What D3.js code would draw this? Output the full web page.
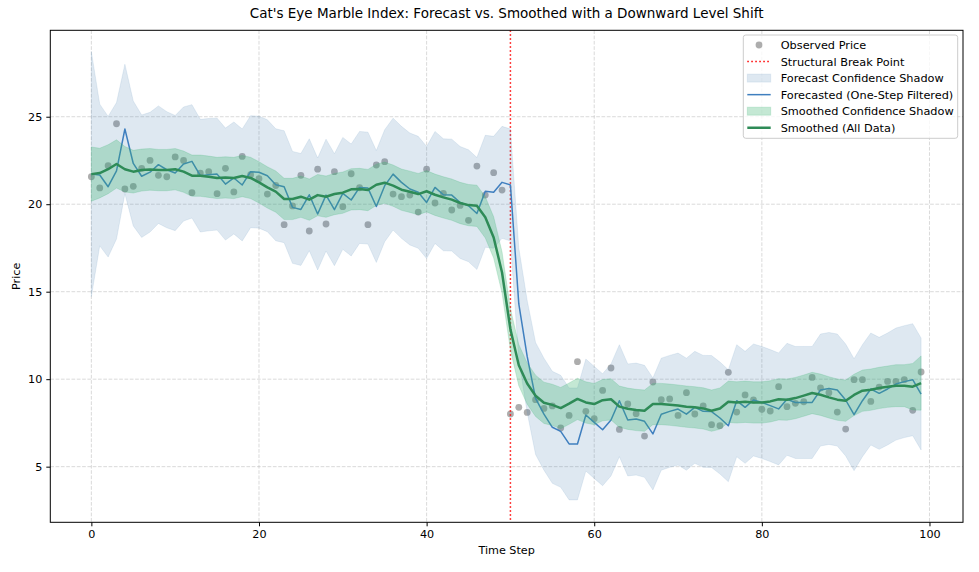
<!DOCTYPE html>
<html><head><meta charset="utf-8">
<script src="https://cdn.jsdelivr.net/npm/d3@7/dist/d3.min.js"></script>
<style>body{margin:0;background:#fff}svg{display:block}text{font-family:"DejaVu Sans",sans-serif;fill:#000}</style>
</head><body><svg id="c" width="979" height="572"></svg>
<script>
const observed = [21.57,20.93,22.2,24.6,20.87,21.02,22.05,22.5,21.65,21.57,
22.7,22.5,20.66,21.78,21.86,20.6,22.05,20.7,22.73,21.69,
21.46,20.58,21.07,18.83,19.9,21.65,18.47,22.0,18.87,21.86,
19.86,21.74,20.94,18.83,22.24,22.43,20.58,20.43,20.52,19.55,
22.0,20.07,20.62,19.67,19.93,19.08,22.18,20.52,21.8,20.81,
8.01,8.39,8.1,8.83,8.33,8.47,7.21,7.93,11.0,8.16,
7.74,9.36,10.64,7.13,8.58,8.03,6.75,9.84,8.83,8.87,
7.93,9.23,8.01,8.47,7.4,7.34,10.39,8.12,9.1,8.81,
8.28,8.18,9.57,8.43,8.62,8.71,10.1,9.5,9.23,8.12,
7.15,9.97,9.97,8.73,9.55,9.87,9.87,9.97,8.22,10.41];
const forecast = [21.72,21.67,21.0,21.91,24.3,22.33,21.6,21.83,22.26,21.97,
21.78,22.3,22.45,21.63,21.69,21.72,21.15,21.5,21.1,21.86,
21.83,21.63,21.11,21.0,19.82,19.7,20.54,19.44,20.52,19.69,
20.62,20.24,20.96,20.92,19.87,21.06,21.72,21.25,20.87,20.68,
20.1,20.96,20.54,20.52,20.1,19.91,19.47,20.74,20.68,21.25,
21.1,14.3,11.3,8.9,8.0,7.25,7.02,6.3,6.3,7.95,
7.53,7.11,7.67,8.77,7.67,7.72,7.59,6.87,8.0,8.16,
8.29,8.0,8.39,8.16,8.15,7.78,7.34,8.77,8.39,8.81,
8.67,8.49,8.3,8.85,8.67,8.67,8.67,9.38,9.47,9.38,
8.81,7.97,8.77,9.44,9.19,9.44,9.72,9.86,9.97,9.15];
const forecastHalfWidth = [7.0,4.05,4.02,3.9,3.7,3.57,3.5,3.42,3.36,3.32,
3.29,3.26,3.24,3.22,3.21,3.2,3.2,3.2,3.2,3.2,
3.2,3.2,3.2,3.2,3.2,3.2,3.2,3.2,3.2,3.2,
3.2,3.2,3.2,3.2,3.2,3.2,3.2,3.2,3.2,3.2,
3.2,3.2,3.2,3.2,3.2,3.2,3.2,3.2,3.2,3.2,
3.2,3.2,3.2,3.2,3.2,3.2,3.2,3.2,3.2,3.2,
3.2,3.2,3.2,3.2,3.2,3.2,3.2,3.2,3.2,3.2,
3.2,3.2,3.2,3.2,3.2,3.2,3.2,3.2,3.2,3.2,
3.2,3.2,3.2,3.2,3.2,3.2,3.2,3.2,3.2,3.2,
3.2,3.2,3.2,3.2,3.2,3.2,3.2,3.2,3.2,3.2];
const smoothed = [21.72,21.78,22.0,22.3,22.0,21.86,21.95,21.99,21.95,21.95,
22.0,21.86,21.63,21.63,21.57,21.5,21.53,21.5,21.61,21.5,
21.25,20.96,20.72,20.3,20.3,20.43,20.26,20.52,20.43,20.58,
20.66,20.85,20.87,20.81,21.11,21.23,21.06,20.83,20.71,20.58,
20.74,20.54,20.39,20.26,20.07,19.95,19.91,19.25,18.1,16.1,
12.85,10.8,9.75,9.05,8.65,8.53,8.35,8.6,8.87,8.67,
8.58,8.8,8.85,8.43,8.31,8.24,8.2,8.58,8.58,8.54,
8.49,8.43,8.39,8.33,8.2,8.32,8.71,8.67,8.71,8.67,
8.67,8.73,8.85,8.83,8.92,9.06,9.21,9.11,8.96,8.83,
8.77,9.1,9.34,9.4,9.5,9.57,9.63,9.63,9.57,9.78];
const smoothedHalfWidth = [1.55,1.42,1.4,1.38,1.3,1.22,1.2,1.19,1.18,1.18,
1.18,1.18,1.18,1.18,1.18,1.18,1.18,1.18,1.18,1.18,
1.18,1.18,1.18,1.18,1.18,1.18,1.18,1.18,1.18,1.18,
1.18,1.18,1.18,1.18,1.18,1.18,1.18,1.18,1.18,1.18,
1.18,1.18,1.18,1.18,1.18,1.18,1.18,1.18,1.18,1.18,
1.18,1.18,1.18,1.18,1.18,1.18,1.18,1.18,1.18,1.18,
1.18,1.18,1.18,1.18,1.18,1.18,1.18,1.18,1.18,1.18,
1.18,1.18,1.18,1.18,1.18,1.18,1.18,1.18,1.18,1.18,
1.18,1.18,1.18,1.18,1.18,1.18,1.18,1.18,1.18,1.18,
1.18,1.18,1.18,1.18,1.18,1.18,1.2,1.2,1.33,1.55];
const breakPoint = 50;
const xTicks = [0,20,40,60,80,100];
const yTicks = [5,10,15,20,25];
const legendLabels = ["Observed Price","Structural Break Point","Forecast Confidence Shadow","Forecasted (One-Step Filtered)","Smoothed Confidence Shadow","Smoothed (All Data)"];
const titleText = "Cat's Eye Marble Index: Forecast vs. Smoothed with a Downward Level Shift";

const rows = observed.map((v,i)=>({t:i,obs:v,f:forecast[i],fh:forecastHalfWidth[i],s:smoothed[i],sh:smoothedHalfWidth[i]}));

const L=50.3,R=963,T=30.3,B=522.3;
const x=d3.scaleLinear().domain([-4.9,104.0]).range([L,R]);
const y=d3.scaleLinear().domain([1.82,29.94]).range([B,T]);
const svg=d3.select("#c");

svg.append("defs").append("clipPath").attr("id","clip").append("rect").attr("x",L).attr("y",T).attr("width",R-L).attr("height",B-T);

// grid
const grid=svg.append("g");
grid.selectAll(".gx").data(xTicks).join("line").attr("x1",d=>x(d)).attr("x2",d=>x(d)).attr("y1",T).attr("y2",B)
 .attr("stroke","#b0b0b0").attr("stroke-opacity",0.6).attr("stroke-width",0.8).attr("stroke-dasharray","3.7,1.6");
grid.selectAll(".gy").data(yTicks).join("line").attr("y1",d=>y(d)).attr("y2",d=>y(d)).attr("x1",L).attr("x2",R)
 .attr("stroke","#b0b0b0").attr("stroke-opacity",0.6).attr("stroke-width",0.8).attr("stroke-dasharray","3.7,1.6");

const plot=svg.append("g").attr("clip-path","url(#clip)");

// observed
plot.selectAll("circle.obs").data(rows).join("circle").attr("cx",d=>x(d.t)).attr("cy",d=>y(d.obs)).attr("r",3.4)
 .attr("fill","#777777").attr("fill-opacity",0.6);

// break line
plot.append("line").attr("x1",x(breakPoint)).attr("x2",x(breakPoint)).attr("y1",T).attr("y2",B)
 .attr("stroke","#ff0000").attr("stroke-width",1.5).attr("stroke-dasharray","1.5,2.5");

// forecast band
const fArea=d3.area().x(d=>x(d.t)).y0(d=>y(d.f-d.fh)).y1(d=>y(d.f+d.fh));
plot.append("path").datum(rows).attr("d",fArea).attr("fill","#4682b4").attr("fill-opacity",0.18)
 .attr("stroke","#4682b4").attr("stroke-opacity",0.12).attr("stroke-width",1);
// forecast line
plot.append("path").datum(rows).attr("d",d3.line().x(d=>x(d.t)).y(d=>y(d.f))).attr("fill","none")
 .attr("stroke","#3f7fbf").attr("stroke-width",1.5).attr("stroke-linejoin","round");
// smoothed band
const sArea=d3.area().x(d=>x(d.t)).y0(d=>y(d.s-d.sh)).y1(d=>y(d.s+d.sh));
plot.append("path").datum(rows).attr("d",sArea).attr("fill","#3cb371").attr("fill-opacity",0.3)
 .attr("stroke","#3cb371").attr("stroke-opacity",0.2).attr("stroke-width",1);
// smoothed line
plot.append("path").datum(rows).attr("d",d3.line().x(d=>x(d.t)).y(d=>y(d.s))).attr("fill","none")
 .attr("stroke","#2e8b57").attr("stroke-width",2.5).attr("stroke-linejoin","round");

// frame
svg.append("rect").attr("x",L).attr("y",T).attr("width",R-L).attr("height",B-T).attr("fill","none").attr("stroke","#000").attr("stroke-width",1);

// axes
const xa=svg.append("g").attr("transform",`translate(0,${B})`).call(d3.axisBottom(x).tickValues(xTicks).tickSize(4).tickPadding(4).tickFormat(d3.format("d")));
const ya=svg.append("g").attr("transform",`translate(${L},0)`).call(d3.axisLeft(y).tickValues(yTicks).tickSize(4).tickPadding(4).tickFormat(d3.format("d")));
[xa,ya].forEach(a=>{a.select(".domain").remove();a.selectAll("text").attr("font-size",11.2).attr("font-family","DejaVu Sans");a.selectAll("line").attr("stroke","#000");});

svg.append("text").attr("x",(L+R)/2).attr("y",18).attr("text-anchor","middle").attr("font-size",13.5).text(titleText);
svg.append("text").attr("x",(L+R)/2).attr("y",554).attr("text-anchor","middle").attr("font-size",11.2).text("Time Step");
svg.append("text").attr("transform",`translate(20,${(T+B)/2}) rotate(-90)`).attr("text-anchor","middle").attr("font-size",11.2).text("Price");

// legend
const lg=svg.append("g");
lg.append("rect").attr("x",743.3).attr("y",35).attr("width",214.4).attr("height",103.3).attr("rx",2.5)
 .attr("fill","#fff").attr("fill-opacity",0.8).attr("stroke","#cccccc").attr("stroke-width",1);
const ly=i=>45+i*16.55;
const hx0=747.3,hx1=770.7,hxm=(hx0+hx1)/2;
lg.append("circle").attr("cx",hxm).attr("cy",ly(0)).attr("r",3.4).attr("fill","#777777").attr("fill-opacity",0.6);
lg.append("line").attr("x1",hx0).attr("x2",hx1).attr("y1",ly(1)).attr("y2",ly(1)).attr("stroke","#ff0000").attr("stroke-width",1.5).attr("stroke-dasharray","1.5,2.5");
lg.append("rect").attr("x",hx0).attr("y",ly(2)-4).attr("width",hx1-hx0).attr("height",8).attr("fill","#4682b4").attr("fill-opacity",0.18).attr("stroke","#4682b4").attr("stroke-opacity",0.12);
lg.append("line").attr("x1",hx0).attr("x2",hx1).attr("y1",ly(3)).attr("y2",ly(3)).attr("stroke","#3f7fbf").attr("stroke-width",1.5);
lg.append("rect").attr("x",hx0).attr("y",ly(4)-4).attr("width",hx1-hx0).attr("height",8).attr("fill","#3cb371").attr("fill-opacity",0.3).attr("stroke","#3cb371").attr("stroke-opacity",0.2);
lg.append("line").attr("x1",hx0).attr("x2",hx1).attr("y1",ly(5)).attr("y2",ly(5)).attr("stroke","#2e8b57").attr("stroke-width",2.5);
lg.selectAll("text.l").data(legendLabels).join("text").attr("x",780.7).attr("y",(d,i)=>ly(i)).attr("dy","0.35em").attr("font-size",11.3).text(d=>d);
</script></body></html>
